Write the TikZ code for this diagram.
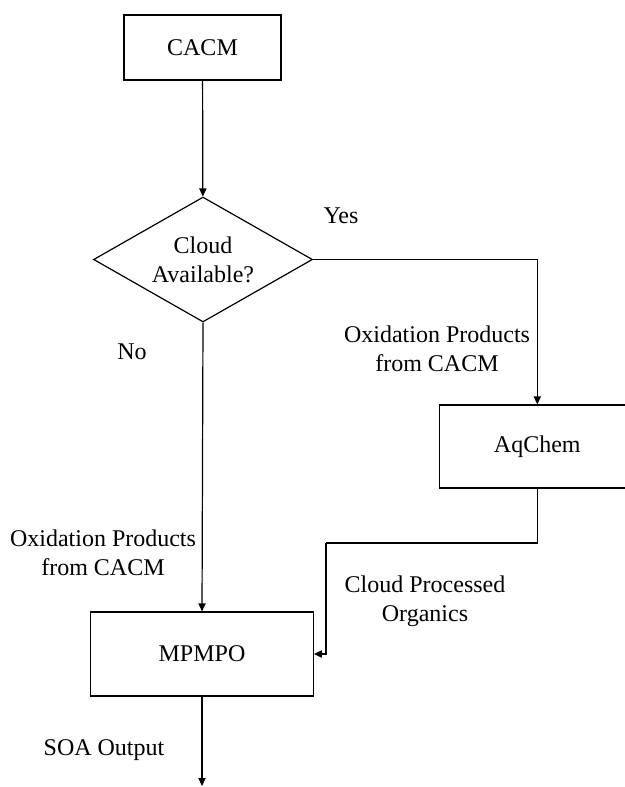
\documentclass[tikz,border=0pt]{standalone}
\usepackage{fontspec}
\setmainfont{Liberation Serif}
\usepackage{tikz}
\usetikzlibrary{arrows.meta,positioning,shapes.geometric}

\begin{document}
\begin{tikzpicture}[
  x=0.5pt,y=-0.5pt,
  font=\fontsize{12}{14.5}\selectfont,
  modelbox/.style={rectangle,draw=black,line width=0.6pt,align=center},
  decision/.style={diamond,draw=black,line width=0.6pt,inner sep=0pt,shape aspect=1.75,
               minimum width=109.5pt,minimum height=62.5pt,align=center},
  lbl/.style={align=center,inner sep=0pt},
  arr/.style={-{Triangle[length=4pt,width=3.6pt]},line width=0.6pt}
]
  \useasboundingbox (0,0) rectangle (625,787);

  \node[modelbox,minimum width=78.5pt,minimum height=32.5pt] (cacm) at (202.5,47.5) {CACM};
  \node[decision] (cloud) at (203,259.5) {Cloud\\Available?};
  \node[modelbox,minimum width=98pt,minimum height=41.5pt] (aqchem) at (537.3,446.5) {AqChem};
  \node[modelbox,minimum width=111.3pt,minimum height=42pt] (mpmpo) at (202,654) {MPMPO};

  \coordinate (bend) at (326,543);
  \coordinate (soa) at (202,786);

  % labels
  \node[lbl] (yes) at (341,216) {Yes};
  \node[lbl] (no) at (132,352) {No};
  \node[lbl] (oxright) at (437,349) {Oxidation Products\\from CACM};
  \node[lbl] (oxleft) at (103,553) {Oxidation Products\\from CACM};
  \node[lbl] (cpo) at (425,601) {Cloud Processed\\Organics};
  \node[lbl] (soaout) at (104,750) {SOA Output};

  \draw[arr] (cacm) -- (cloud);
  \draw[arr] (cloud.east) -| (aqchem.north);
  \draw[arr] (cloud.south) -- (mpmpo.north);
  \draw[line width=0.6pt] (aqchem.south) |- (bend);
  \draw[arr] (bend) |- (mpmpo.east);
  \draw[arr] (mpmpo.south) -- (soa);
\end{tikzpicture}
\end{document}
